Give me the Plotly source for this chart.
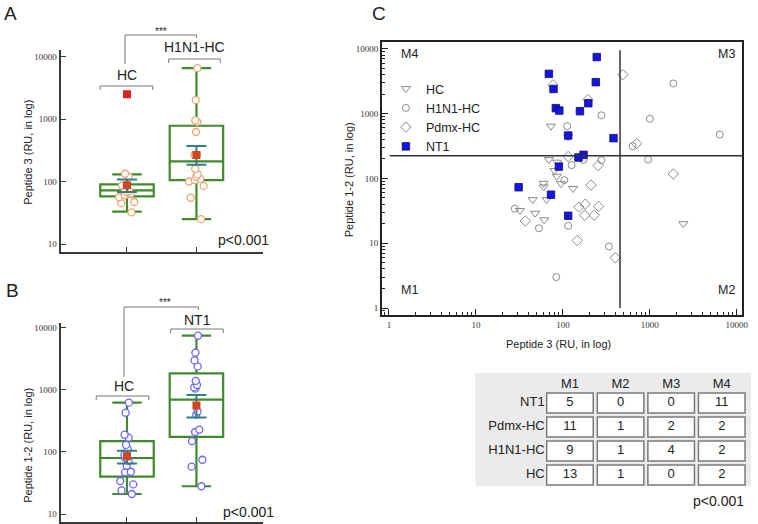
import numpy as np
import plotly.graph_objects as go

W, H = 758, 524

# ---------------- DATA ----------------
# Panel A: Peptide 3
a_groups = ["HC", "H1N1-HC"]
a_hc_points = [133, 120, 86, 76, 67, 60, 56, 47, 45, 32, 70, 64]
a_h1n1_points = [6500, 2000, 950, 900, 620, 270, 265, 160, 130, 120, 110, 100, 105, 85, 55, 25]
a_q1 = [58, 105]
a_median = [72, 210]
a_q3 = [90, 780]
a_low = [33, 25]
a_high = [130, 6500]
a_mean = [87, 265]
a_sem_low = [68, 185]
a_sem_high = [108, 370]
a_outlier = [2500]

# Panel B: Peptide 1-2
b_groups = ["HC", "NT1"]
b_hc_points = [625, 430, 190, 170, 130, 110, 90, 80, 72, 60, 48, 47, 34, 30, 24, 21]
b_nt1_points = [7500, 4000, 3000, 2400, 1400, 1200, 1100, 1050, 450, 400, 230, 210, 150, 75, 58, 28]
b_q1 = [40, 175]
b_median = [80, 700]
b_q3 = [150, 1850]
b_low = [21, 28]
b_high = [625, 7500]
b_mean = [85, 560]
b_sem_low = [65, 360]
b_sem_high = [105, 830]

# Panel C: scatter Peptide 3 (x) vs Peptide 1-2 (y)
hc_x = [73, 115, 69, 86, 80, 85, 95, 60, 60, 131, 45, 65, 32, 48, 61, 2420]
hc_y = [640, 437, 195, 178, 132, 108, 83, 84, 74, 70, 47, 47, 32, 29, 23, 20]
h1n1_x = [112, 277, 1860, 1000, 6350, 633, 955, 172, 277, 126, 104, 28, 53, 115, 338, 84]
h1n1_y = [640, 940, 2920, 830, 475, 314, 195, 193, 191, 160, 94, 34, 17, 18.5, 8.9, 3]
pdmx_x = [77, 194, 490, 703, 1860, 115, 254, 211, 153, 181, 178, 229, 257, 37, 146, 400]
pdmx_y = [2780, 1650, 3990, 345, 117, 218, 158, 79, 36, 40, 27, 27, 37, 22, 11, 6]
nt1_x = [245, 69, 239, 78, 83, 91, 157, 196, 115, 382, 173, 151, 90, 31, 73, 115]
nt1_y = [7450, 4110, 3055, 2400, 1213, 1115, 1090, 1446, 459, 418, 231, 210, 152, 73, 56, 26.5]
x_cut = 454
y_cut = 224
axis_ticks = [1, 10, 100, 1000, 10000]
axis_tick_text = ["1", "10", "100", "1000", "10000"]
box_ticks = [10, 100, 1000, 10000]
box_tick_text = ["10", "100", "1000", "10000"]
quadrants = ["M1", "M2", "M3", "M4"]

# Table
table_rows = ["NT1", "Pdmx-HC", "H1N1-HC", "HC"]
table_cols = ["M1", "M2", "M3", "M4"]
table_counts = [[5, 0, 0, 11], [11, 1, 2, 2], [9, 1, 4, 2], [13, 1, 0, 2]]

# ---------------- STYLE ----------------
GREEN = "#3f8a2c"
TEAL = "#2f7f86"
RED = "#d2451e"
ORANGE = "#f0a56e"
BLUE_PT = "#6a62ff"
GRAY = "#8a8a8a"
NT1_BLUE = "#1414e6"
AXC = "#3a3a3a"
SANS = "Liberation Sans, Arial, sans-serif"
SERIF = "Liberation Serif, Times New Roman, serif"


def px(x):
    return x / W


def py(y):
    return 1 - y / H


fig = go.Figure()


def box_panel(xa, ya, q1, med, q3, lo, hi, mean, sl, sh, pts_list, ptcolor):
    for i in range(2):
        fig.add_trace(go.Box(
            x=[i], q1=[q1[i]], median=[med[i]], q3=[q3[i]],
            lowerfence=[lo[i]], upperfence=[hi[i]],
            boxpoints=False, width=0.77, whiskerwidth=0.55,
            line=dict(color=GREEN, width=2.2), fillcolor="rgba(0,0,0,0)",
            xaxis=xa, yaxis=ya, showlegend=False, hoverinfo="skip"))
    for i in range(2):
        fig.add_trace(go.Box(
            x=[i] * len(pts_list[i]), y=pts_list[i], boxpoints="all",
            jitter=0.35, pointpos=0, width=0.77, whiskerwidth=0,
            line=dict(color="rgba(0,0,0,0)", width=0), fillcolor="rgba(0,0,0,0)",
            marker=dict(symbol="circle", size=7, color="white",
                        line=dict(color=ptcolor, width=1.3)),
            xaxis=xa, yaxis=ya, showlegend=False, hoverinfo="skip"))
    fig.add_trace(go.Scatter(
        x=[0, 1], y=mean, mode="markers",
        marker=dict(symbol="square", size=8, color=RED),
        error_y=dict(type="data", symmetric=False,
                     array=[sh[i] - mean[i] for i in range(2)],
                     arrayminus=[mean[i] - sl[i] for i in range(2)],
                     color=TEAL, thickness=2, width=10),
        xaxis=xa, yaxis=ya, showlegend=False, hoverinfo="skip"))


box_panel("x", "y", a_q1, a_median, a_q3, a_low, a_high, a_mean, a_sem_low, a_sem_high,
          [a_hc_points, a_h1n1_points], ORANGE)
fig.add_trace(go.Scatter(x=[0], y=a_outlier, mode="markers",
                         marker=dict(symbol="square", size=8, color="#dd1f1f"),
                         xaxis="x", yaxis="y", showlegend=False, hoverinfo="skip"))
box_panel("x2", "y2", b_q1, b_median, b_q3, b_low, b_high, b_mean, b_sem_low, b_sem_high,
          [b_hc_points, b_nt1_points], BLUE_PT)

# Panel C scatter
fig.add_trace(go.Scatter(x=hc_x, y=hc_y, mode="markers", name="HC",
                         marker=dict(symbol="triangle-down-open", size=8, color=GRAY, line=dict(width=1)),
                         xaxis="x3", yaxis="y3"))
fig.add_trace(go.Scatter(x=h1n1_x, y=h1n1_y, mode="markers", name="H1N1-HC",
                         marker=dict(symbol="circle-open", size=7, color=GRAY, line=dict(width=1)),
                         xaxis="x3", yaxis="y3"))
fig.add_trace(go.Scatter(x=pdmx_x, y=pdmx_y, mode="markers", name="Pdmx-HC",
                         marker=dict(symbol="diamond-open", size=8, color=GRAY, line=dict(width=1)),
                         xaxis="x3", yaxis="y3"))
fig.add_trace(go.Scatter(x=nt1_x, y=nt1_y, mode="markers", name="NT1",
                         marker=dict(symbol="square", size=7.5, color=NT1_BLUE,
                                     line=dict(color="#101060", width=0.8)),
                         xaxis="x3", yaxis="y3"))

# Table text via axis 4
for r, row in enumerate(table_rows):
    yv = len(table_rows) - 1 - r
    fig.add_trace(go.Scatter(x=list(range(4)), y=[yv] * 4, mode="text",
                             text=[str(v) for v in table_counts[r]],
                             textfont=dict(family=SANS, size=13, color="#222"),
                             xaxis="x4", yaxis="y4", showlegend=False, hoverinfo="skip"))
    fig.add_trace(go.Scatter(x=[-0.5], y=[yv], mode="text", text=[row],
                             textposition="middle left",
                             textfont=dict(family=SANS, size=13, color="#222"),
                             xaxis="x4", yaxis="y4", showlegend=False, hoverinfo="skip"))
fig.add_trace(go.Scatter(x=list(range(4)), y=[3.75] * 4, mode="text", text=table_cols,
                         textfont=dict(family=SANS, size=13, color="#222"),
                         xaxis="x4", yaxis="y4", showlegend=False, hoverinfo="skip"))

shapes = []
annotations = []


def line(x0, y0, x1, y1, color="#777", width=1):
    shapes.append(dict(type="line", xref="paper", yref="paper",
                       x0=px(x0), y0=py(y0), x1=px(x1), y1=py(y1),
                       line=dict(color=color, width=width)))


def text(x, y, s, size=13, xanchor="center", family=SANS, color="#222", angle=0):
    annotations.append(dict(x=px(x), y=py(y), xref="paper", yref="paper", text=s,
                            showarrow=False, xanchor=xanchor, yanchor="middle",
                            font=dict(family=family, size=size, color=color), textangle=angle))


def bracket(x0, x1, y, drop):
    line(x0, y + drop, x0, y)
    line(x0, y, x1, y)
    line(x1, y, x1, y + drop)


# Panel A annotations
bracket(101, 154, 86, 4)
bracket(170, 222, 59, 4)
text(128, 75, a_groups[0], 14)
text(196, 47, a_groups[1], 14)
line(126, 64, 126, 35)
line(126, 35, 198, 35)
line(198, 35, 198, 38)
text(162, 31, "***", 10)
text(2, 13, "A", 19, xanchor="left")
text(28, 152, "Peptide 3 (RU, in log)", 11, angle=-90)
text(218, 240, "p<0.001", 14, xanchor="left")

# Panel B annotations
bracket(97, 150, 396, 4)
bracket(172, 225, 329, 4)
text(125, 386, b_groups[0], 14)
text(199, 320, b_groups[1], 14)
line(125, 377, 125, 307)
line(125, 307, 200, 307)
line(200, 307, 200, 310)
text(166, 302, "***", 10)
text(4, 290, "B", 19, xanchor="left")
text(28, 445, "Peptide 1-2 (RU, in log)", 11, angle=-90)
text(223, 512, "p<0.001", 14, xanchor="left")

# Panel C annotations
text(373, 14, "C", 19, xanchor="left")
text(352, 180, "Peptide 1-2 (RU, in log)", 11, angle=-90)
text(563, 344, "Peptide 3 (RU, in log)", 11)
text(413, 54, quadrants[3], 12.5)
text(732, 54, quadrants[2], 12.5)
text(413, 290, quadrants[0], 12.5)
text(732, 290, quadrants[1], 12.5)
text(752, 501, "p<0.001", 14, xanchor="right")

# Quadrant lines in data coordinates
shapes.append(dict(type="line", xref="x3", yref="y3",
                   x0=x_cut, x1=x_cut, y0=1, y1=9500,
                   line=dict(color="#333", width=1.5)))
shapes.append(dict(type="line", xref="x3", yref="y3",
                   x0=1.02, x1=12000, y0=y_cut, y1=y_cut,
                   line=dict(color="#333", width=1.5)))

# Table background and cells
shapes.append(dict(type="rect", xref="x4 domain", yref="y4 domain", x0=0, x1=1, y0=0, y1=1,
                   fillcolor="#ebebeb", line=dict(width=0), layer="below"))
for r in range(len(table_rows)):
    yv = len(table_rows) - 1 - r
    for c in range(len(table_cols)):
        shapes.append(dict(type="rect", xref="x4", yref="y4",
                           x0=c - 0.46, x1=c + 0.46, y0=yv - 0.42, y1=yv + 0.42,
                           fillcolor="white", line=dict(color="#7a7a7a", width=1.5),
                           layer="below"))

tickfont = dict(family=SERIF, size=9, color="#333")
box_x = dict(range=[-0.957, 1.957], showline=True, linecolor=AXC, linewidth=2,
             tickvals=[0, 1], ticktext=["", ""], ticks="inside", ticklen=5, tickcolor=AXC,
             showgrid=False, zeroline=False, fixedrange=True)
box_y = dict(type="log", showline=True, linecolor=AXC, linewidth=2, tickvals=box_ticks,
             ticktext=box_tick_text, ticks="inside", ticklen=5, tickcolor=AXC,
             tickfont=tickfont, showgrid=False, zeroline=False)

fig.update_layout(
    width=W, height=H, margin=dict(l=0, r=0, t=0, b=0),
    paper_bgcolor="white", plot_bgcolor="rgba(0,0,0,0)",
    boxmode="overlay",
    xaxis=dict(domain=[px(61), px(265)], anchor="y", **box_x),
    yaxis=dict(domain=[py(252), py(50)], anchor="x", range=[0.872, 4.104], **box_y),
    xaxis2=dict(domain=[px(61), px(265)], anchor="y2", **box_x),
    yaxis2=dict(domain=[py(522), py(323)], anchor="x2", range=[0.871, 4.08], **box_y),
    xaxis3=dict(domain=[px(385), px(748)], anchor="y3", type="log", range=[-0.08, 4.06],
                showline=True, mirror=True, linecolor="#222", linewidth=2,
                tickvals=axis_ticks, ticktext=axis_tick_text, ticks="inside", ticklen=6,
                tickcolor="#222", tickfont=tickfont, showgrid=False, zeroline=False,
                minor=dict(ticks="inside", ticklen=3, tickcolor="#222", dtick="D1", showgrid=False)),
    yaxis3=dict(domain=[py(315), py(42)], anchor="x3", type="log", range=[-0.108, 4.105],
                showline=True, mirror=True, linecolor="#222", linewidth=2,
                tickvals=axis_ticks, ticktext=axis_tick_text, ticks="inside", ticklen=6,
                tickcolor="#222", tickfont=tickfont, showgrid=False, zeroline=False,
                minor=dict(ticks="inside", ticklen=3, tickcolor="#222", dtick="D1", showgrid=False)),
    xaxis4=dict(domain=[px(479), px(757)], anchor="y4", range=[-1.873, 3.578],
                visible=False, fixedrange=True),
    yaxis4=dict(domain=[py(486), py(373)], anchor="x4", range=[-0.458, 4.25],
                visible=False, fixedrange=True),
    shapes=shapes, annotations=annotations,
    legend=dict(x=px(389), y=py(74), xanchor="left", yanchor="top",
                bgcolor="rgba(0,0,0,0)", font=dict(family=SANS, size=12.5, color="#222"),
                tracegroupgap=0, itemsizing="trace"),
)

fig.write_html("out.html", config={"displayModeBar": False},
               post_script="document.body.style.margin='0px';document.body.style.overflow='hidden';")
